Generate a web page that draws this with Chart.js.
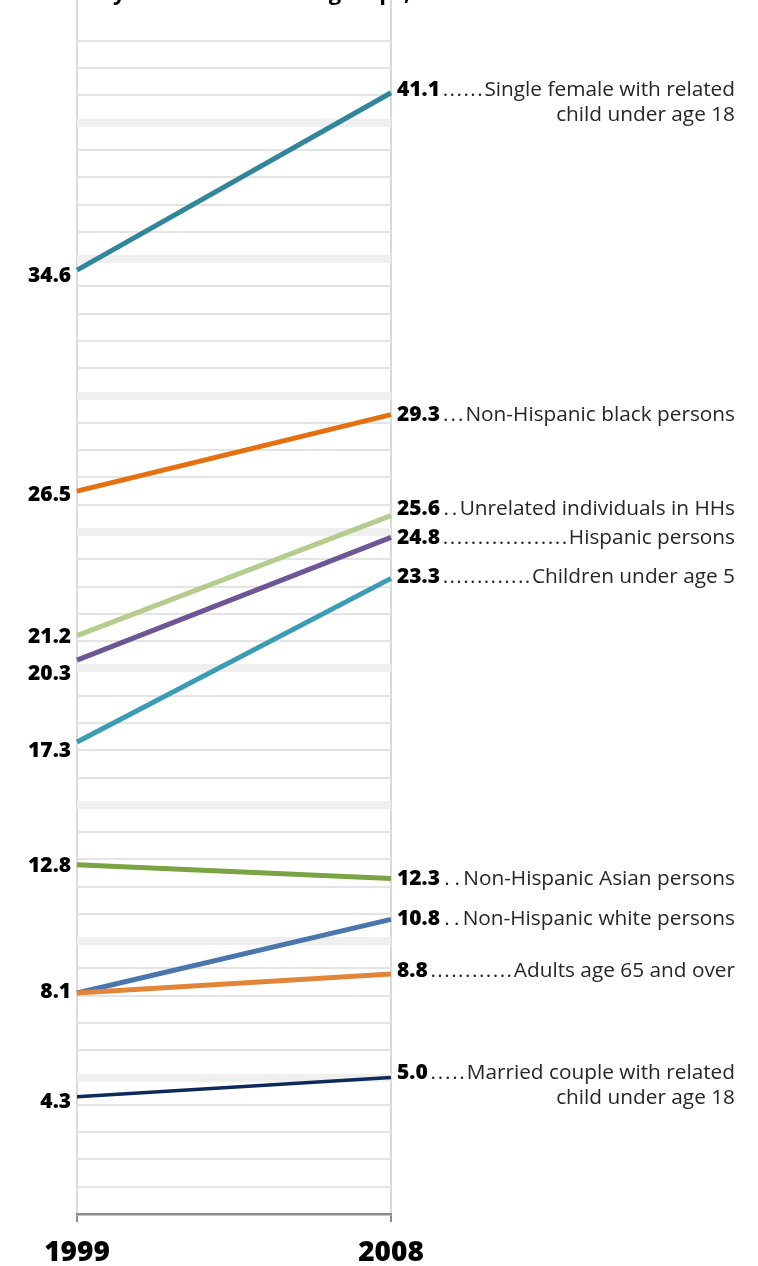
<!DOCTYPE html>
<html>
<head>
<meta charset="utf-8">
<script src="https://cdn.jsdelivr.net/npm/chart.js@4/dist/chart.umd.min.js"></script>
<style>
  html, body { margin: 0; padding: 0; background: #fff; }
  #wrap { width: 758px; height: 1266px; position: relative; }
</style>
</head>
<body>
<div id="wrap"><canvas id="c" width="758" height="1266"></canvas></div>
<script>
// ---- data ----
const years = ['1999', '2008'];
const groups = [
  'Single female with related\nchild under age 18',
  'Non-Hispanic black persons',
  'Unrelated individuals in HHs',
  'Hispanic persons',
  'Children under age 5',
  'Non-Hispanic Asian persons',
  'Non-Hispanic white persons',
  'Adults age 65 and over',
  'Married couple with related\nchild under age 18'
];
const rate1999 = [34.6, 26.5, 21.2, 20.3, 17.3, 12.8, 8.1, 8.1, 4.3];
const rate2008 = [41.1, 29.3, 25.6, 24.8, 23.3, 12.3, 10.8, 8.8, 5.0];
const titleText = 'Poverty rates for selected groups, 1999 and 2008';

// ---- styling ----
const colors = ['#31869c', '#e4700f', '#b4cd8e', '#6e5596', '#3b9db5', '#7aa344', '#4a76ae', '#e38538', '#0e2a5c'];
const widths = [5, 5, 5, 5, 5, 5, 5, 5, 3.5];
const leftNudge = [4, 2, 0, 12, 7.5, -0.5, -3, null, 3.5];
const rightNudge = [-4, -1, -8, -0.5, -2.5, -1, -2, -4, -6.5];

const FONT = '"Open Sans", "Noto Sans", sans-serif';

const labelPlugin = {
  id: 'slopeLabels',
  afterDatasetsDraw(chart) {
    const ctx = chart.ctx;
    const area = chart.chartArea;
    ctx.save();
    const vSize = 21, cSize = 20.8;
    groups.forEach((g, i) => {
      const meta = chart.getDatasetMeta(i);
      const p0 = meta.data[0], p1 = meta.data[1];
      // left value
      if (leftNudge[i] !== null) {
        ctx.font = '800 ' + vSize + 'px ' + FONT;
        ctx.fillStyle = '#000';
        ctx.textAlign = 'right';
        ctx.textBaseline = 'alphabetic';
        ctx.fillText(rate1999[i].toFixed(1), area.left - 6, p0.y + leftNudge[i] + vSize * 0.357);
      }
      // right value
      const base = p1.y + rightNudge[i] + vSize * 0.357;
      ctx.font = '800 ' + vSize + 'px ' + FONT;
      ctx.fillStyle = '#000';
      ctx.textAlign = 'left';
      const vx = area.right + 6;
      const vtxt = rate2008[i].toFixed(1);
      ctx.fillText(vtxt, vx, base);
      const vEnd = vx + ctx.measureText(vtxt).width;
      // category
      const lines = g.split('\n');
      ctx.font = cSize + 'px ' + FONT;
      ctx.fillStyle = '#262626';
      ctx.textAlign = 'right';
      const rx = 735;
      lines.forEach((ln, k) => ctx.fillText(ln, rx, base + k * 25));
      const tStart = rx - ctx.measureText(lines[0]).width;
      // dot leaders, spread evenly between value and category text
      ctx.textAlign = 'center';
      const gap = tStart - vEnd - 3;
      const n = Math.max(1, Math.floor(gap / 6.8));
      const step = gap / n;
      for (let k = 0; k < n; k++) {
        ctx.fillText('.', vEnd + 2 + step * (k + 0.5), base);
      }
    });
    // partially visible title at top
    ctx.font = 'bold 22px ' + FONT;
    ctx.fillStyle = '#000';
    ctx.textAlign = 'left';
    ctx.textBaseline = 'alphabetic';
    const tx = 113 - ctx.measureText('Povert').width;
    ctx.fillText(titleText, tx, 0);
    ctx.restore();
  }
};

new Chart(document.getElementById('c'), {
  type: 'line',
  data: {
    labels: years,
    datasets: groups.map((g, i) => ({
      label: g,
      data: [rate1999[i], rate2008[i]],
      borderColor: colors[i],
      backgroundColor: colors[i],
      borderWidth: widths[i],
      pointRadius: 0,
      pointHoverRadius: 0,
      tension: 0,
      clip: false,
      order: i === 7 ? -1 : i
    }))
  },
  options: {
    responsive: false,
    animation: false,
    devicePixelRatio: 1,
    layout: { padding: { left: 77, right: 367, top: 0, bottom: 0 } },
    plugins: { legend: { display: false }, tooltip: { enabled: false } },
    scales: {
      x: {
        type: 'category',
        offset: false,
        grid: {
          display: true,
          color: '#dadada',
          lineWidth: 2,
          drawTicks: true,
          tickLength: 8,
          tickColor: '#8c8c8c',
          tickWidth: 2
        },
        border: { display: true, color: '#8c8c8c', width: 2.5 },
        ticks: {
          font: { family: FONT, size: 28, weight: '800' },
          color: '#000',
          padding: 14,
          maxRotation: 0,
          autoSkip: false
        },
        afterFit(s) { s.height = 52; }
      },
      y: {
        min: 0,
        max: 44.5,
        ticks: { display: false, stepSize: 1 },
        border: { display: false },
        grid: {
          drawTicks: false,
          color: (c) => {
            const v = c.tick.value;
            if (v === 0 || Math.abs(v - Math.round(v)) > 1e-6) return 'rgba(0,0,0,0)';
            return v % 5 === 0 ? '#efefef' : '#e4e4e4';
          },
          lineWidth: (c) => (c.tick.value % 5 === 0 ? 8 : 2)
        },
        afterFit(s) { s.width = 0; }
      }
    }
  },
  plugins: [labelPlugin]
});
</script>
</body>
</html>
